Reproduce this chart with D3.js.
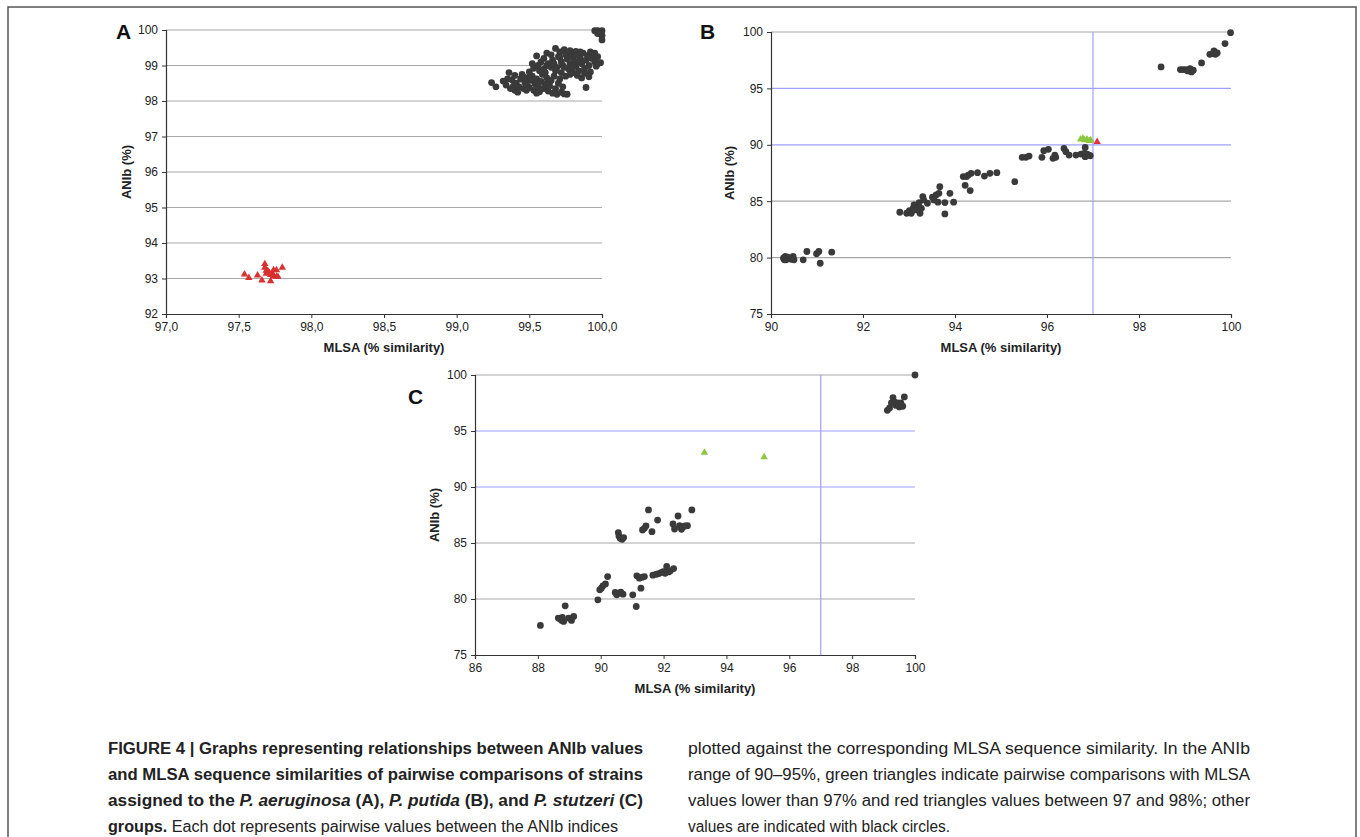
<!DOCTYPE html>
<html>
<head>
<meta charset="utf-8">
<script src="https://cdn.jsdelivr.net/npm/d3@7"></script>
<style>
  body { margin: 0; background: white; }
  svg { display: block; font-family: "Liberation Sans", Arial, sans-serif; }
</style>
</head>
<body>
<main></main>
<script>
// values (MLSA %, ANIb %)

// panel A - P. aeruginosa
let aCircles = [
    [99.55,99.27],[99.58,99.10],[99.60,99.20],[99.62,99.35],[99.63,99.05],[99.65,99.30],[99.66,99.15],[99.68,99.48],
    [99.69,98.95],[99.70,99.25],[99.71,99.38],[99.72,99.10],[99.73,99.00],[99.74,99.45],[99.75,99.30],[99.76,99.18],
    [99.77,98.90],[99.78,99.05],[99.79,99.35],[99.80,99.22],[99.80,98.80],[99.81,99.12],[99.82,98.98],[99.83,99.30],
    [99.84,98.85],[99.85,99.20],[99.86,99.05],[99.87,99.35],[99.88,98.92],[99.89,99.15],[99.90,99.28],[99.91,99.00],
    [99.92,98.82],[99.93,99.20],[99.94,99.32],[99.95,99.10],[99.97,99.05],[99.72,98.80],[99.75,98.70],[99.78,98.75],
    [99.83,98.72],[99.86,98.65],[99.88,98.78],[99.91,98.68],[99.68,98.85],[99.65,98.95],[99.62,99.00],[99.60,98.90],
    [99.85,99.38],[99.82,99.40],[99.78,99.42],[99.92,99.38],[99.95,99.35],[99.97,99.25],[99.99,99.08],[99.96,98.98],
    [99.74,98.95],[99.80,98.95],[99.84,99.08],[99.77,99.25],[99.71,99.22],[99.67,99.05],
    [99.24,98.52],[99.27,98.40],[99.32,98.56],[99.34,98.45],[99.36,98.80],[99.37,98.35],[99.38,98.60],[99.40,98.30],
    [99.40,98.72],[99.41,98.50],[99.43,98.40],[99.44,98.62],[99.45,98.75],[99.46,98.35],[99.47,98.52],[99.48,98.45],
    [99.49,98.65],[99.50,98.38],[99.51,98.58],[99.52,98.70],[99.53,98.30],[99.54,98.48],[99.55,98.62],[99.56,98.40],
    [99.57,98.26],[99.58,98.55],[99.59,98.75],[99.60,98.35],[99.61,98.48],[99.62,98.65],[99.63,98.28],[99.64,98.42],
    [99.65,98.58],[99.66,98.22],[99.67,98.70],[99.68,98.35],[99.69,98.19],[99.70,98.50],[99.71,98.62],[99.72,98.25],
    [99.74,98.20],[99.76,98.19],[99.73,98.40],[99.42,98.25],[99.39,98.42],[99.46,98.68],[99.50,98.82],[99.53,98.92],
    [99.56,99.00],[99.52,99.05],[99.57,98.85],[99.61,98.80],[99.89,98.38],[99.35,98.62],[99.48,98.30],[99.55,98.22],
    [99.64,98.55],[99.58,98.35],
    [99.95,99.98],[99.97,99.98],[100.0,99.98],[99.98,99.92],[99.99,99.88],[100.0,99.85],[99.97,99.90],[100.0,99.72]
]
let aRedTri = [
    [97.54,93.12],[97.57,93.02],[97.63,93.09],[97.66,92.95],[97.68,93.41],[97.68,93.31],[97.69,93.22],[97.69,93.14],
    [97.70,93.22],[97.71,93.16],[97.72,92.93],[97.72,93.10],[97.73,93.16],[97.74,93.24],[97.74,93.07],[97.76,93.24],
    [97.76,93.05],[97.77,93.05],[97.80,93.31]
]
let aXTicks = [97.0, 97.5, 98.0, 98.5, 99.0, 99.5, 100.0]
let aYTicks = [92, 93, 94, 95, 96, 97, 98, 99, 100]

// panel B - P. putida
let bCircles = [
    [90.27,79.95],[90.31,80.10],[90.33,79.80],[90.39,79.95],[90.44,79.85],[90.48,80.10],[90.50,79.80],[90.29,79.80],[90.36,80.05],
    [90.70,79.80],[90.78,80.54],[90.99,80.34],[91.04,80.54],[91.07,79.50],[91.32,80.48],
    [92.80,84.02],[92.95,83.93],[93.01,84.17],[93.05,83.93],[93.09,84.37],[93.11,84.67],[93.14,84.23],[93.19,84.58],
    [93.22,84.88],[93.24,83.93],[93.27,84.37],[93.30,85.41],[93.32,85.11],[93.40,84.82],[93.51,85.35],[93.54,85.11],
    [93.59,85.55],[93.63,84.91],[93.65,85.70],[93.67,86.29],[93.78,84.88],[93.78,83.87],[93.89,85.70],[93.97,84.91],
    [94.18,87.18],[94.22,86.41],[94.25,87.18],[94.29,87.32],[94.33,85.94],[94.35,87.47],[94.49,87.53],[94.64,87.23],
    [94.76,87.47],[94.91,87.53],[95.30,86.73],
    [95.46,88.89],[95.54,88.89],[95.61,89.00],[95.89,88.89],[95.93,89.48],[96.03,89.60],[96.13,88.80],[96.17,89.09],
    [96.19,88.89],[96.37,89.68],[96.41,89.39],[96.48,89.09],[96.63,89.09],[96.74,89.18],[96.81,89.24],[96.83,89.77],
    [96.83,88.95],[96.87,89.18],[96.91,89.09],[96.94,89.03],
    [98.48,96.90],[98.90,96.67],[98.96,96.67],[99.02,96.67],[99.06,96.55],[99.11,96.76],[99.14,96.46],[99.18,96.61],
    [99.36,97.26],[99.54,98.02],[99.60,98.08],[99.63,98.32],[99.66,98.02],[99.70,98.14],[99.87,98.97],[99.99,99.94]
]
let bGreenTri = [[96.73,90.48],[96.78,90.57],[96.82,90.42],[96.87,90.48],[96.92,90.36],[96.95,90.42]]
let bRedTri = [[97.09,90.27]]
let bXTicks = [90, 92, 94, 96, 98, 100]
let bYTicks = [75, 80, 85, 90, 95, 100]

// panel C - P. stutzeri
let cCircles = [
    [88.08,77.64],
    [88.65,78.30],[88.71,78.21],[88.76,78.09],[88.78,78.35],[88.82,78.00],[88.87,79.39],[88.98,78.30],[89.07,78.09],[89.14,78.44],
    [89.91,79.93],[89.97,80.82],[90.02,80.97],[90.07,81.18],[90.15,81.35],[90.22,82.00],
    [90.46,80.58],[90.51,80.37],[90.59,80.52],[90.64,80.61],[90.71,80.43],
    [90.56,85.93],[90.58,85.63],[90.62,85.42],[90.68,85.33],[90.73,85.48],
    [91.02,80.37],[91.13,79.33],[91.15,82.07],[91.23,81.86],[91.28,80.97],[91.32,81.95],[91.39,82.00],
    [91.33,86.16],[91.39,86.31],[91.44,86.52],[91.52,87.95],[91.63,86.01],[91.81,87.05],
    [91.66,82.13],[91.77,82.21],[91.85,82.27],[91.92,82.36],[91.99,82.45],[92.05,82.30],[92.10,82.90],[92.16,82.42],
    [92.21,82.51],[92.32,82.72],
    [92.30,86.70],[92.35,86.25],[92.46,87.41],[92.51,86.55],[92.57,86.22],[92.62,86.46],[92.68,86.52],[92.76,86.55],[92.90,87.95],
    [99.12,96.85],[99.19,97.06],[99.25,97.51],[99.30,97.98],[99.34,97.60],[99.39,97.30],[99.44,97.51],[99.50,97.15],
    [99.55,97.51],[99.61,97.21],[99.66,98.04],[100.0,100.0]
]
let cGreenTri = [[93.30,93.08],[95.20,92.67]]
let cXTicks = [86, 88, 90, 92, 94, 96, 98, 100]
let cYTicks = [75, 80, 85, 90, 95, 100]

// blue reference lines (ANIb 90 / 95, MLSA 97)
let refY = [90, 95]
let refX = [97]

const svgWidth = 1360
const svgHeight = 837

let commaFmt = d3.formatLocale({ decimal: ",", thousands: ".", grouping: [3], currency: ["", ""] }).format(".1f")

let svg = d3.select("main")
    .append("svg")
    .attr("width", svgWidth)
    .attr("height", svgHeight)

// outer frame of the figure
svg.append("rect")
    .attr("x", 8)
    .attr("y", 7)
    .attr("width", 1348)
    .attr("height", 860)
    .attr("fill", "none")
    .attr("stroke", "#555")
    .attr("stroke-width", 1.5)

function drawPanel(p) {
    let xScale = d3.scaleLinear().domain(p.xDomain).range([p.left, p.right])
    let yScale = d3.scaleLinear().domain(p.yDomain).range([p.bottom, p.top])

    let g = svg.append("g")

    //grid lines
    g.selectAll(".hgrid")
        .data(p.yTicks.filter(v => v !== p.yDomain[0]))
        .enter()
        .append("line")
        .attr("x1", p.left)
        .attr("x2", p.right)
        .attr("y1", d => yScale(d))
        .attr("y2", d => yScale(d))
        .attr("stroke", d => p.blue && refY.includes(d) ? "#a0a0ff" : "#a8a8a8")
        .attr("stroke-width", 1.2)

    if (p.blue) {
        g.selectAll(".vref")
            .data(refX)
            .enter()
            .append("line")
            .attr("x1", d => xScale(d))
            .attr("x2", d => xScale(d))
            .attr("y1", p.top)
            .attr("y2", p.bottom)
            .attr("stroke", "#a0a0ff")
            .attr("stroke-width", 1.2)
    }

    //axes
    let leftAxis = d3.axisLeft(yScale).tickValues(p.yTicks).tickSize(4).tickPadding(4).tickFormat(d3.format("d"))
    let bottomAxis = d3.axisBottom(xScale).tickValues(p.xTicks).tickSize(4).tickPadding(4).tickFormat(p.xFormat)

    let yAxis = g.append("g")
        .attr("transform", `translate(${p.left}, 0)`)
        .call(leftAxis)
    let xAxis = g.append("g")
        .attr("transform", `translate(0, ${p.bottom})`)
        .call(bottomAxis)

    for (let ax of [yAxis, xAxis]) {
        ax.select("path").attr("stroke", "#333").attr("stroke-width", 1.2)
        ax.selectAll("line").attr("stroke", "#333")
        ax.selectAll("text")
            .attr("fill", "#222")
            .style("font-size", "12px")
            .style("font-family", "Liberation Sans, Arial, sans-serif")
    }

    //markers
    g.selectAll(".dot")
        .data(p.circles)
        .enter()
        .append("circle")
        .attr("cx", d => xScale(d[0]))
        .attr("cy", d => yScale(d[1]))
        .attr("r", 3.4)
        .attr("fill", "#3a3a3a")

    let tri = d3.symbol(d3.symbolTriangle).size(24)
    for (let t of p.triangles) {
        g.selectAll(null)
            .data(t.data)
            .enter()
            .append("path")
            .attr("d", tri)
            .attr("transform", d => `translate(${xScale(d[0])}, ${yScale(d[1])})`)
            .attr("fill", t.color)
    }

    //titles
    g.append("text")
        .attr("x", (p.left + p.right) / 2)
        .attr("y", p.bottom + 38)
        .attr("text-anchor", "middle")
        .style("font-size", "13px")
        .style("font-weight", "bold")
        .attr("fill", "#222")
        .text("MLSA (% similarity)")

    g.append("text")
        .attr("transform", `translate(${p.yTitleX}, ${(p.top + p.bottom) / 2}) rotate(-90)`)
        .attr("text-anchor", "middle")
        .attr("dy", "0.35em")
        .style("font-size", "13px")
        .style("font-weight", "bold")
        .attr("fill", "#222")
        .text("ANIb (%)")

    g.append("text")
        .attr("x", p.letterX)
        .attr("y", p.letterY)
        .style("font-size", "21px")
        .style("font-weight", "bold")
        .attr("fill", "#111")
        .text(p.letter)
}

drawPanel({
    letter: "A", letterX: 116, letterY: 39,
    left: 166, right: 602, top: 30, bottom: 314, yTitleX: 126,
    xDomain: [97, 100], yDomain: [92, 100],
    xTicks: aXTicks, yTicks: aYTicks, xFormat: commaFmt,
    circles: aCircles,
    triangles: [{ data: aRedTri, color: "#d93030" }],
    blue: false
})

drawPanel({
    letter: "B", letterX: 700, letterY: 39,
    left: 771, right: 1231, top: 32, bottom: 314, yTitleX: 729,
    xDomain: [90, 100], yDomain: [75, 100],
    xTicks: bXTicks, yTicks: bYTicks, xFormat: d3.format("d"),
    circles: bCircles,
    triangles: [{ data: bGreenTri, color: "#8dc63f" }, { data: bRedTri, color: "#e0304a" }],
    blue: true
})

drawPanel({
    letter: "C", letterX: 408, letterY: 404,
    left: 475, right: 915, top: 375, bottom: 655, yTitleX: 434,
    xDomain: [86, 100], yDomain: [75, 100],
    xTicks: cXTicks, yTicks: cYTicks, xFormat: d3.format("d"),
    circles: cCircles,
    triangles: [{ data: cGreenTri, color: "#8dc63f" }],
    blue: true
})

//caption, two columns; each line is a list of [text, style] runs
let captionLeft = [
    [["FIGURE 4 | Graphs representing relationships between ANIb values", "b"]],
    [["and MLSA sequence similarities of pairwise comparisons of strains", "b"]],
    [["assigned to the ", "b"], ["P. aeruginosa", "bi"], [" (A), ", "b"], ["P. putida", "bi"], [" (B), and ", "b"], ["P. stutzeri", "bi"], [" (C)", "b"]],
    [["groups.", "b"], [" Each dot represents pairwise values between the ANIb indices", "n"]]
]
let captionRight = [
    [["plotted against the corresponding MLSA sequence similarity. In the ANIb", "n"]],
    [["range of 90–95%, green triangles indicate pairwise comparisons with MLSA", "n"]],
    [["values lower than 97% and red triangles values between 97 and 98%; other", "n"]],
    [["values are indicated with black circles.", "n"]]
]
let leftWidths = [535, 535, 535, 510]
let rightWidths = [562, 562, 562, 262]

function drawCaption(lines, widths, x) {
    lines.forEach((runs, i) => {
        let t = svg.append("text")
            .attr("x", x)
            .attr("y", 754 + i * 26)
            .attr("textLength", widths[i])
            .attr("lengthAdjust", "spacingAndGlyphs")
            .style("font-size", "16px")
            .attr("fill", "#222")
        for (let r of runs) {
            t.append("tspan")
                .style("font-weight", r[1] === "n" ? "normal" : "bold")
                .style("font-style", r[1] === "bi" ? "italic" : "normal")
                .text(r[0])
        }
    })
}

drawCaption(captionLeft, leftWidths, 108)
drawCaption(captionRight, rightWidths, 688)
</script>
</body>
</html>
